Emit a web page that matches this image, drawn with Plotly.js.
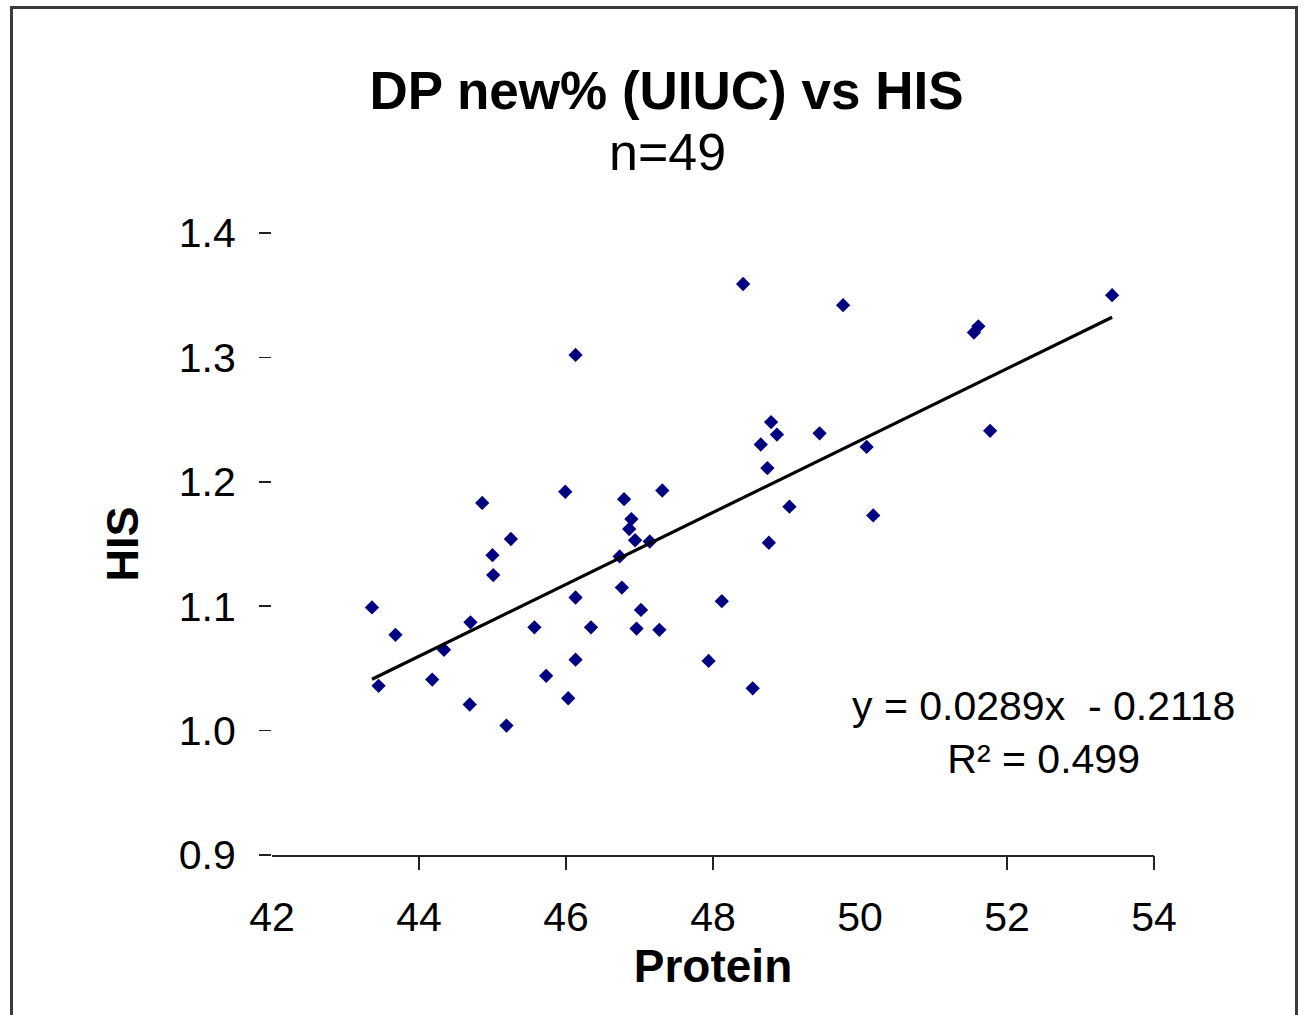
<!DOCTYPE html>
<html>
<head>
<meta charset="utf-8">
<script src="https://cdn.plot.ly/plotly-3.0.1.min.js"></script>
<style>
  html, body { margin: 0; padding: 0; background: #ffffff; overflow: hidden; }
  #wrap { position: relative; width: 1307px; height: 1015px; }
  #chart { position: absolute; left: 0; top: 0; width: 1307px; height: 1015px; }
  #frame { position: absolute; left: 10px; top: 6px; width: 1288px; height: 1100px;
           border: 3px solid #3a3a3a; pointer-events: none; box-sizing: border-box; }
</style>
</head>
<body>
<div id="wrap">
  <div id="chart"></div>
  <div id="frame"></div>
</div>
<script>
// Protein (x) values
var protein = [48.41, 46.13, 44.86, 45.99, 46.79, 47.31, 46.89, 46.86, 46.94, 47.14,
               45.25, 45.00, 45.01, 43.36, 43.68, 44.70, 44.34, 43.45, 44.18, 44.69,
               45.19, 45.57, 45.73, 46.13, 46.13, 46.03, 46.34, 46.73, 46.76, 47.02,
               46.96, 47.27, 48.12, 47.94, 48.54, 49.77, 51.61, 51.55, 53.43, 48.79,
               48.87, 48.65, 49.45, 48.74, 50.09, 51.77, 49.04, 50.18, 48.76];
// HIS (y) values
var his = [1.359, 1.302, 1.183, 1.192, 1.186, 1.193, 1.170, 1.162, 1.153, 1.152,
           1.154, 1.141, 1.125, 1.099, 1.077, 1.087, 1.065, 1.036, 1.041, 1.021,
           1.004, 1.083, 1.044, 1.107, 1.057, 1.026, 1.083, 1.140, 1.115, 1.097,
           1.082, 1.081, 1.104, 1.056, 1.034, 1.342, 1.325, 1.320, 1.350, 1.248,
           1.238, 1.230, 1.239, 1.211, 1.228, 1.241, 1.180, 1.173, 1.151];
// Linear trendline as printed on the chart
var trendSlope = [0.0289];
var trendIntercept = [-0.2118];
var rSquared = [0.499];
var xTickVals = [42, 44, 46, 48, 50, 52, 54];
var xTickMarks = [44, 46, 48, 52, 54];
var yTickVals = [0.9, 1.0, 1.1, 1.2, 1.3, 1.4];
var yTickText = ['0.9', '1.0', '1.1', '1.2', '1.3', '1.4'];

var xMin = Math.min.apply(null, protein);
var xMax = Math.max.apply(null, protein);
var trendX = [xMin, xMax];
var trendY = trendX.map(function (v) { return trendSlope[0] * v + trendIntercept[0]; });

var FONT = 'Liberation Sans, Arial, sans-serif';

var traces = [
  {
    x: trendX, y: trendY, type: 'scatter', mode: 'lines', name: 'Linear (HIS)',
    xaxis: 'x2', yaxis: 'y',
    line: { color: '#000000', width: 3.2 }, showlegend: false, hoverinfo: 'skip'
  },
  {
    x: protein, y: his, type: 'scatter', mode: 'markers', name: 'HIS',
    marker: { symbol: 'diamond', size: 11, color: '#000080', line: { width: 0 } },
    showlegend: false, hoverinfo: 'x+y'
  }
];

var eqText = 'y = ' + trendSlope[0].toFixed(4) + 'x\u00A0 - ' + Math.abs(trendIntercept[0]).toFixed(4) +
             '<br>R\u00B2 = ' + rSquared[0].toFixed(3);

var layout = {
  width: 1307, height: 1015,
  paper_bgcolor: '#ffffff', plot_bgcolor: '#ffffff',
  margin: { l: 272, r: 153, t: 233, b: 160, pad: 0 },
  font: { family: FONT, color: '#000000' },
  title: {
    text: '<b>DP new% (UIUC) vs HIS</b>',
    font: { family: FONT, size: 53, color: '#000000' },
    x: 0.51, xanchor: 'center', xref: 'container',
    y: 1 - 90 / 1015, yanchor: 'middle', yref: 'container'
  },
  xaxis: {
    range: [42, 54], tickvals: xTickVals, ticktext: xTickVals.map(String),
    showgrid: false, zeroline: false,
    showline: true, linecolor: '#222222', linewidth: 2,
    ticks: '', ticklen: 14,
    tickfont: { family: FONT, size: 41, color: '#000000' },
    ticklabelstandoff: 25,
    title: { text: '<b>Protein</b>', font: { family: FONT, size: 46, color: '#000000' }, standoff: 0 },
    fixedrange: true
  },
  xaxis2: {
    overlaying: 'x', matches: 'x', anchor: 'y', side: 'bottom',
    range: [42, 54], tickvals: xTickMarks,
    showticklabels: false, showgrid: false, zeroline: false, showline: false,
    ticks: 'outside', ticklen: 14, tickwidth: 2, tickcolor: '#222222',
    fixedrange: true
  },
  yaxis: {
    range: [0.9, 1.4], tickvals: yTickVals, ticktext: yTickText,
    showgrid: false, zeroline: false, showline: false,
    ticks: 'outside', ticklen: 12, tickwidth: 1.5, tickcolor: '#222222',
    tickfont: { family: FONT, size: 41, color: '#000000' },
    ticklabelstandoff: 15,
    title: { text: '<b>HIS</b>', font: { family: FONT, size: 45, color: '#000000' }, standoff: 26 },
    fixedrange: true
  },
  annotations: [
    {
      text: 'n=49', xref: 'paper', yref: 'paper',
      x: (667 - 272) / 882, y: 1 + (233 - 152) / 622,
      xanchor: 'center', yanchor: 'middle', showarrow: false,
      font: { family: FONT, size: 52, color: '#000000' }
    },
    {
      text: eqText, xref: 'paper', yref: 'paper',
      x: (1043 - 272) / 882, y: (855 - 732) / 622,
      xanchor: 'center', yanchor: 'middle', align: 'center', showarrow: false,
      font: { family: FONT, size: 41, color: '#000000' }
    }
  ],
  showlegend: false
};

Plotly.newPlot('chart', traces, layout, { staticPlot: true, displayModeBar: false });
</script>
</body>
</html>
